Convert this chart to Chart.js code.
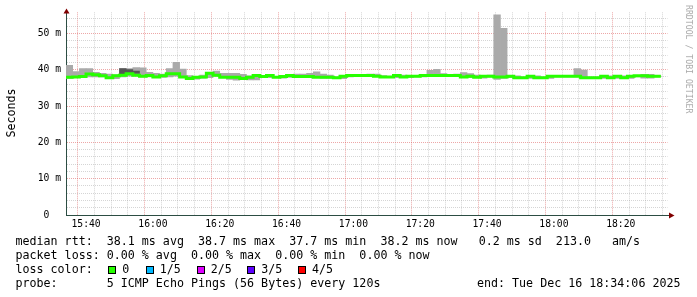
<!DOCTYPE html>
<html><head><meta charset="utf-8">
<script src="https://cdn.jsdelivr.net/npm/chart.js@4/dist/chart.umd.min.js"></script>
<style>
html,body{margin:0;padding:0;background:#fff;}
#wrap{position:relative;width:697px;height:297px;overflow:hidden;background:#fff;}
#c{position:absolute;left:0;top:0;}
.t{position:absolute;font-family:"DejaVu Sans Mono",monospace;font-size:11.66px;line-height:14px;white-space:pre;color:#000;}
.box{position:absolute;width:6px;height:6px;border:1px solid #000;}
#ylab{position:absolute;left:-29px;top:106px;width:80px;text-align:center;transform:rotate(-90deg);transform-origin:50% 50%;}
#wm{position:absolute;left:694px;top:5px;font-family:"DejaVu Sans Mono",monospace;font-size:8.2px;line-height:10px;white-space:pre;color:#aaaaaa;transform:rotate(90deg);transform-origin:0 0;}
</style></head><body>
<div id="wrap">
<canvas id="c" width="697" height="297"></canvas>
<div class="t" id="ylab">Seconds</div>
<div id="wm">RRDTOOL / TOBI OETIKER</div>
<div class="t" style="left:15.5px;top:234px">median rtt:  38.1 ms avg  38.7 ms max  37.7 ms min  38.2 ms now   0.2 ms sd  213.0   am/s</div>
<div class="t" style="left:15.5px;top:248px">packet loss: 0.00 % avg  0.00 % max  0.00 % min  0.00 % now</div>
<div class="t" style="left:15.5px;top:262px">loss color:</div>
<div id="lossLegend"></div>
<div class="t" style="left:15.5px;top:276px">probe:       5 ICMP Echo Pings (56 Bytes) every 120s</div>
<div class="t" style="right:16.5px;top:276px">end: Tue Dec 16 18:34:06 2025</div>
</div>
<script>
// ---- data ----
const times = [
"15:34","15:36","15:38","15:40","15:42","15:44","15:46","15:48","15:50","15:52","15:54","15:56","15:58",
"16:00","16:02","16:04","16:06","16:08","16:10","16:12","16:14","16:16","16:18","16:20","16:22","16:24","16:26","16:28",
"16:30","16:32","16:34","16:36","16:38","16:40","16:42","16:44","16:46","16:48","16:50","16:52","16:54","16:56","16:58",
"17:00","17:02","17:04","17:06","17:08","17:10","17:12","17:14","17:16","17:18","17:20","17:22","17:24","17:26","17:28",
"17:30","17:32","17:34","17:36","17:38","17:40","17:42","17:44","17:46","17:48","17:50","17:52","17:54","17:56","17:58",
"18:00","18:02","18:04","18:06","18:08","18:10","18:12","18:14","18:16","18:18","18:20","18:22","18:24","18:26","18:28","18:30"];
const medianMs = [38.3,37.9,38.0,38.1,38.8,38.6,38.3,37.8,38.3,38.5,
 38.9,38.5,38.2,38.4,38.0,38.3,38.9,38.9,38.0,37.6,
 37.9,38.0,39.0,38.5,37.9,37.9,37.9,37.6,37.9,38.4,
 38.1,38.4,37.9,38.1,38.4,38.1,38.1,38.1,37.9,37.9,
 37.9,37.8,38.2,38.4,38.4,38.4,38.4,38.2,38.0,38.0,
 38.4,38.0,38.2,38.2,38.4,38.4,38.4,38.4,38.4,38.4,
 38.0,38.2,37.9,38.2,38.2,38.0,38.0,38.2,37.8,37.8,
 38.2,37.8,37.8,38.2,38.2,38.2,38.2,38.2,37.8,37.8,
 37.8,38.2,37.8,38.2,37.8,38.2,38.3,38.3,38.2];
const smokeLo = [37.6,38.0,37.9,38.0,38.0,38.0,38.0,37.5,38.0,38.2,
 38.3,38.0,38.0,38.0,37.9,38.0,38.2,38.0,37.7,37.4,
 37.7,37.8,38.2,38.0,37.3,37.1,37.6,37.2,37.2,38.0,
 37.8,38.0,37.7,37.9,38.0,37.9,37.9,37.9,37.7,37.7,
 37.7,37.5,38.0,38.2,38.2,38.2,38.2,38.0,37.8,37.8,
 38.2,37.8,38.0,38.0,38.1,38.1,38.2,38.2,38.2,38.2,
 37.8,38.0,37.7,38.0,37.3,37.6,37.8,38.0,37.6,37.6,
 38.0,37.6,37.6,38.0,38.0,38.0,38.0,38.0,37.6,37.6,
 37.6,38.0,37.6,38.0,37.6,38.0,37.7,37.7,38.0];
const smokeHi = [41.2,39.5,40.3,40.3,39.3,39.0,38.8,38.6,40.3,40.3,
 40.6,40.5,39.3,39.0,38.8,40.3,42.0,40.2,38.4,38.0,
 38.5,39.0,39.6,39.0,39.0,39.0,38.7,38.3,38.0,38.4,
 38.4,38.2,38.1,38.5,38.8,38.8,39.0,39.4,38.8,38.5,
 38.0,38.1,38.5,38.5,38.6,38.8,38.8,38.4,38.2,38.2,
 38.5,38.2,38.4,38.4,39.8,40.1,38.9,38.6,38.8,39.2,
 38.9,38.5,38.3,38.5,55.1,51.4,38.2,38.3,38.0,38.0,
 38.3,38.0,38.0,38.3,38.3,38.4,40.3,39.9,38.0,38.0,
 38.1,38.3,38.0,38.3,38.0,38.4,38.7,38.7,38.4];
const darkTimes = ["15:50","15:52","15:54"];
const darkLo = [38.7,38.7,39.0];
const darkHi = [40.3,40.0,39.6];
const xTickLabels = ["15:40","16:00","16:20","16:40","17:00","17:20","17:40","18:00","18:20"];
const yTickValues = [0,10,20,30,40,50];
const yTickLabels = ["0","10 m","20 m","30 m","40 m","50 m"];
const lossLabels = ["0","1/5","2/5","3/5","4/5"];
const lossColors = ["#26ff00","#00b8ff","#dd00ff","#5e00ff","#ff0000"];

// ---- legend boxes ----
const boxX = [108.3,145.7,196.7,247.3,298];
const txtX = [122.3,159.7,210.7,261.3,312];
const ll = document.getElementById('lossLegend');
lossLabels.forEach((l,i)=>{
  const b=document.createElement('div'); b.className='box';
  b.style.left=boxX[i]+'px'; b.style.top='265.5px'; b.style.background=lossColors[i]; ll.appendChild(b);
  const t=document.createElement('div'); t.className='t'; t.textContent=l;
  t.style.left=txtX[i]+'px'; t.style.top='262px'; ll.appendChild(t);
});

const toMin = s => { const [h,m]=s.split(':').map(Number); return h*60+m; };
const STEP = 2;
const xMin = toMin(times[0]);
const xMax = toMin("18:34");
const smokeData = times.map((t,i)=>({x: toMin(t)+STEP/2, y:[smokeLo[i], smokeHi[i]]}));
const darkData = darkTimes.map((t,i)=>({x: toMin(t)+STEP/2, y:[darkLo[i], darkHi[i]]}));
const lineData = times.map((t,i)=>({x: toMin(t), y: medianMs[i]}));
lineData.push({x: toMin(times[times.length-1])+STEP, y: medianMs[medianMs.length-1]});

const majorX = xTickLabels.map(toMin);

const arrows = {
  id:'arrows',
  afterDraw(chart){
    const {ctx, chartArea:{left,right,top,bottom}} = chart;
    ctx.save();
    ctx.strokeStyle='#2C4D43'; ctx.lineWidth=1;
    ctx.beginPath(); ctx.moveTo(right, bottom+0.5); ctx.lineTo(670, bottom+0.5); ctx.stroke();
    ctx.beginPath(); ctx.moveTo(left+0.5, top); ctx.lineTo(left+0.5, 12); ctx.stroke();
    ctx.fillStyle='#800000';
    ctx.beginPath(); ctx.moveTo(left+0.5, 8.5); ctx.lineTo(left-2.5, 13.5); ctx.lineTo(left+3.5,13.5); ctx.closePath(); ctx.fill();
    ctx.beginPath(); ctx.moveTo(674.5, bottom+0.5); ctx.lineTo(669, bottom-2.5); ctx.lineTo(669, bottom+3.5); ctx.closePath(); ctx.fill();
    ctx.restore();
  }
};

new Chart(document.getElementById('c'), {
  type:'bar',
  data:{ datasets:[
    {type:'line', data:lineData, borderColor:'#26ff00', borderWidth:3, pointRadius:0, stepped:'after', fill:false, order:0},
    {type:'bar', data:darkData, backgroundColor:'#555555', borderWidth:0, grouped:false, barPercentage:1, categoryPercentage:1, order:1},
    {type:'bar', data:smokeData, backgroundColor:'#aaaaaa', borderWidth:0, grouped:false, barPercentage:1, categoryPercentage:1, order:2}
  ]},
  options:{
    responsive:false, animation:false, devicePixelRatio:1,
    layout:{padding:{left:0,right:29.5,top:12.3,bottom:0}},
    plugins:{legend:{display:false}, tooltip:{enabled:false}},
    scales:{
      x:{type:'linear', min:xMin, max:xMax, offset:false,
        afterBuildTicks(s){ const arr=[]; for(let v=xMin+1; v<xMax; v+=5) arr.push({value:v}); s.ticks=arr; },
        afterFit(s){ s.height=82; },
        ticks:{autoSkip:false, maxRotation:0, padding:4, color:'#000', font:{family:'DejaVu Sans Mono', size:9.7},
          callback:(v)=> majorX.includes(v) ? xTickLabels[majorX.indexOf(v)] : ''},
        grid:{drawTicks:false, lineWidth:1,
          color:(c)=> c.tick && majorX.includes(c.tick.value) ? 'rgba(220,80,80,0.5)' : 'rgba(150,150,150,0.4)'},
        border:{display:true, color:'#2C4D43', width:1, dash:[1,1]}
      },
      y:{type:'linear', min:0, max:55.8,
        afterBuildTicks(s){ const arr=[]; for(let v=0; v<=54; v+=2) arr.push({value:v}); s.ticks=arr; },
        afterFit(s){ s.width=66; },
        ticks:{autoSkip:false, padding:5, color:'#000', font:{family:'DejaVu Sans Mono', size:9.7},
          callback:(v)=>{ const i=yTickValues.indexOf(v); if(i<0) return ''; const l=yTickLabels[i]; return l.length<4 ? l+'  ' : l; }},
        grid:{drawTicks:false, lineWidth:1,
          color:(c)=>{ const v=c.tick?c.tick.value:null; if(v===0) return 'rgba(0,0,0,0)'; return v%10===0 ? 'rgba(220,80,80,0.5)' : 'rgba(150,150,150,0.4)'; }},
        border:{display:true, color:'#2C4D43', width:1, dash:[1,1]}
      }
    }
  },
  plugins:[arrows]
});
</script>
</body></html>
